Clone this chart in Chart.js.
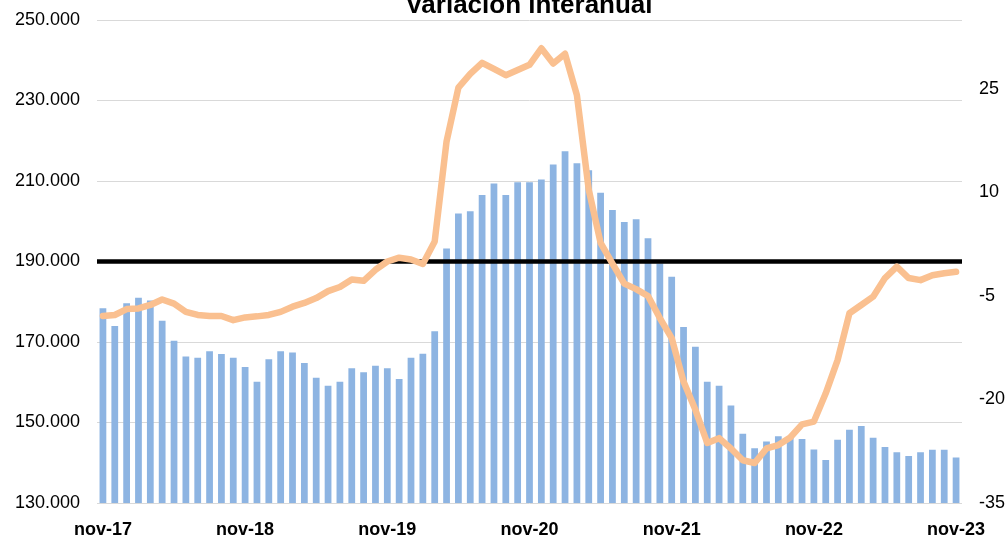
<!DOCTYPE html>
<html><head><meta charset="utf-8">
<script src="https://cdn.jsdelivr.net/npm/chart.js@4"></script>
<style>html,body{margin:0;padding:0;background:#fff}#wrap{width:1006px;height:536px}</style>
</head><body><div id="wrap"><canvas id="c" width="1006" height="536"></canvas></div>
<script>
const titleText = "Variación interanual";
const monthNames = ["nov","dic","ene","feb","mar","abr","may","jun","jul","ago","sep","oct"];
const startYear = 17;
const nMonths = 73;
const barValues = [178.4,174.0,179.6,181.0,180.3,175.3,170.3,166.4,166.1,167.7,
167.0,166.1,163.8,160.1,165.7,167.7,167.4,164.8,161.1,159.1,
160.1,163.5,162.5,164.1,163.5,160.8,166.1,167.1,172.7,193.2,
201.9,202.5,206.5,209.4,206.5,209.7,209.7,210.4,214.1,217.4,
214.4,212.7,207.1,202.8,199.8,200.5,195.8,189.5,186.2,173.7,
168.8,160.1,159.1,154.2,147.2,143.6,145.3,146.6,146.2,145.9,
143.3,140.7,145.7,148.2,149.1,146.2,143.9,142.6,141.7,142.6,
143.2,143.2,141.3].map(v => Math.round(v * 1000));
const yoyValues = [-7.9,-7.75,-6.9,-6.8,-6.3,-5.5,-6.1,-7.3,-7.75,-7.9,
-7.9,-8.5,-8.1,-7.95,-7.75,-7.3,-6.55,-6.0,-5.3,-4.3,
-3.7,-2.6,-2.8,-1.2,0.0,0.55,0.3,-0.35,2.9,17.4,
25.2,27.2,28.8,27.9,27.0,27.75,28.5,30.9,28.7,30.1,
24.1,10.4,2.7,-0.3,-3.2,-4.0,-5.0,-8.2,-11.1,-17.4,
-21.5,-26.3,-25.6,-27.1,-28.8,-29.2,-27.1,-26.6,-25.5,-23.6,
-23.2,-19.1,-14.3,-7.5,-6.3,-5.1,-2.4,-0.75,-2.4,-2.7,
-2.0,-1.7,-1.5];
const leftTicks = [130000,150000,170000,190000,210000,230000,250000];
const rightTicks = [-35,-20,-5,10,25];
const refLevel = 190000;

const categories = [];
for (let i = 0; i < nMonths; i++) {
  const m = i % 12;
  // nov, dic belong to the starting year; ene..oct to the next one
  const y = startYear + Math.floor(i / 12) + (m >= 2 ? 1 : 0);
  categories.push(monthNames[m] + "-" + String(y).padStart(2, "0"));
}

const fmt = v => String(Math.round(v)).replace(/\B(?=(\d{3})+(?!\d))/g, ".");

const refLinePlugin = {
  id: 'refLine',
  afterDatasetDraw(chart, args) {
    if (args.index !== 0) return;
    const {ctx, chartArea} = chart;
    const y = chart.scales.y.getPixelForValue(refLevel);
    ctx.save();
    ctx.strokeStyle = '#000';
    ctx.lineWidth = 4.5;
    ctx.beginPath();
    ctx.moveTo(chartArea.left, y);
    ctx.lineTo(chartArea.right, y);
    ctx.stroke();
    ctx.restore();
  }
};
const titlePlugin = {
  id: 'cutTitle',
  afterDraw(chart) {
    const ctx = chart.ctx;
    ctx.save();
    ctx.font = 'bold 26px "Liberation Sans", Arial, sans-serif';
    ctx.fillStyle = '#000';
    ctx.textAlign = 'center';
    ctx.textBaseline = 'alphabetic';
    ctx.fillText(titleText, 529, 13);
    ctx.restore();
  }
};

new Chart(document.getElementById('c'), {
  data: {
    labels: categories,
    datasets: [
      { type: 'bar', data: barValues, yAxisID: 'y', backgroundColor: '#8DB4E2',
        borderWidth: 0, barPercentage: 0.57, categoryPercentage: 1, order: 2 },
      { type: 'line', data: yoyValues, yAxisID: 'y2', borderColor: '#FAC090', borderWidth: 6.5,
        pointRadius: 0, tension: 0, borderCapStyle: 'round', borderJoinStyle: 'round', fill: false, order: 1 }
    ]
  },
  options: {
    responsive: false,
    animation: false,
    events: [],
    layout: { padding: { top: 20, left: 0, right: 0, bottom: 0 } },
    plugins: { legend: { display: false }, tooltip: { enabled: false }, title: { display: false } },
    scales: {
      x: {
        offset: true,
        grid: { display: false, drawTicks: false },
        border: { display: false },
        ticks: {
          autoSkip: false, maxRotation: 0, minRotation: 0, padding: 16,
          color: '#000', font: { family: '"Liberation Sans", Arial, sans-serif', size: 18, weight: 'bold' },
          callback: function(v, i) { const l = categories[i]; return l.startsWith('nov') ? l : ''; }
        },
        afterFit(s) { s.height = 33; s.paddingLeft = 0; s.paddingRight = 0; }
      },
      y: {
        position: 'left', min: 130000, max: 250000,
        grid: { color: '#D9D9D9', lineWidth: 1, drawTicks: false },
        border: { display: false },
        afterBuildTicks(s) { s.ticks = leftTicks.map(v => ({ value: v })); },
        ticks: { padding: 17, color: '#000', font: { family: '"Liberation Sans", Arial, sans-serif', size: 18 },
          callback: v => fmt(v) },
        afterFit(s) { s.width = 97; s.paddingTop = 0; s.paddingBottom = 0; }
      },
      y2: {
        position: 'right', min: -35, max: 35,
        grid: { display: false, drawTicks: false },
        border: { display: false },
        afterBuildTicks(s) { s.ticks = rightTicks.map(v => ({ value: v })); },
        ticks: { padding: 17, color: '#000', font: { family: '"Liberation Sans", Arial, sans-serif', size: 18 } },
        afterFit(s) { s.width = 44; s.paddingTop = 0; s.paddingBottom = 0; }
      }
    }
  },
  plugins: [refLinePlugin, titlePlugin]
});
</script></body></html>
